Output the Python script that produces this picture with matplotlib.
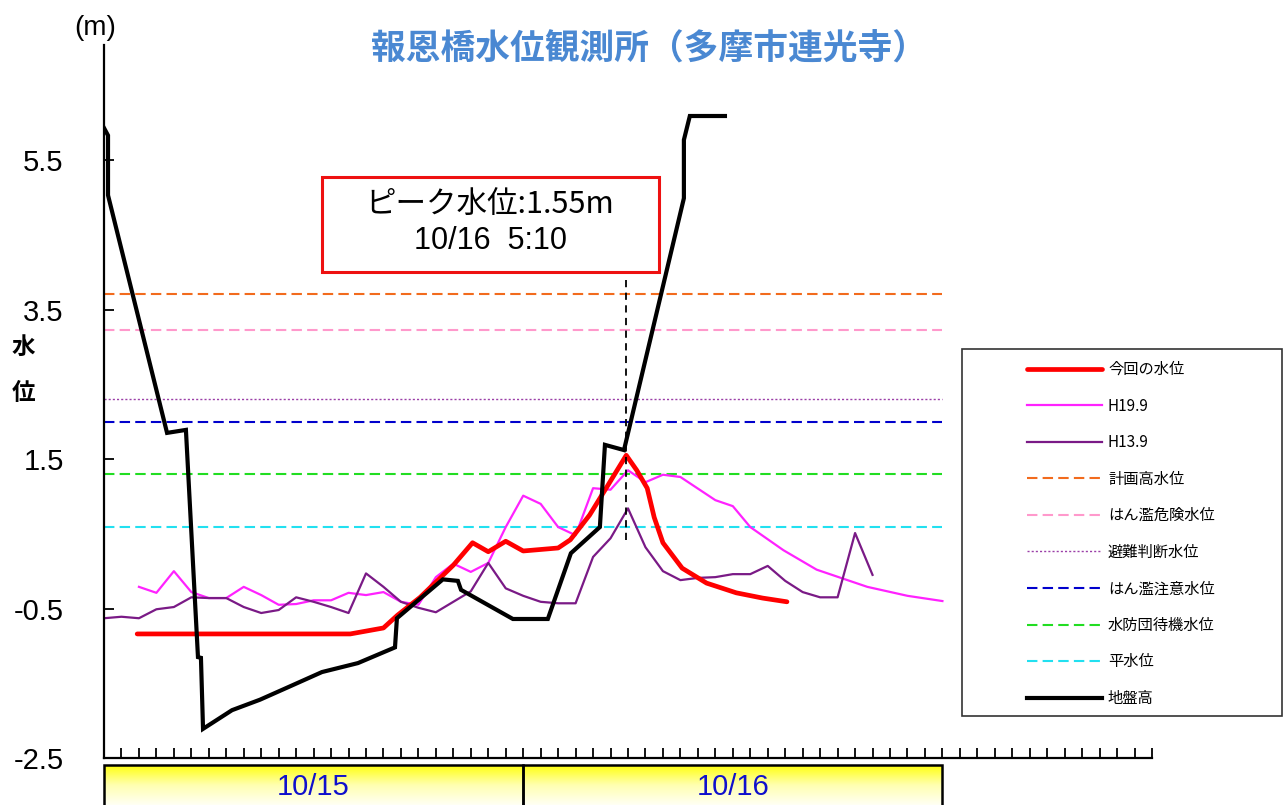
import numpy as np
import matplotlib
matplotlib.use("Agg")
import matplotlib.pyplot as plt
from matplotlib.patches import Rectangle
from matplotlib.colors import LinearSegmentedColormap

plt.rcParams['font.family'] = ['Noto Sans CJK JP', 'DejaVu Sans']
plt.rcParams['axes.unicode_minus'] = False

# --- data (hours from start of 10/15, water level in m) ---
title = "報恩橋水位観測所（多摩市連光寺）"
dates = ["10/15", "10/16"]
peak_time_label = "10/16  5:10"

# 今回の水位
now_t = [1.9, 14.1, 16.0, 16.8, 18.1, 20.0, 21.1, 22.0, 23.0, 24.0, 26.0, 26.7,
         27.8, 28.8, 29.9, 30.5, 31.1, 31.5, 32.0, 33.1, 34.5, 36.2, 37.7, 39.1]
now_v = [-0.84, -0.84, -0.76, -0.59, -0.35, 0.08, 0.38, 0.26, 0.40, 0.27, 0.31, 0.42,
         0.75, 1.13, 1.55, 1.35, 1.11, 0.72, 0.38, 0.04, -0.16, -0.29, -0.36, -0.41]

# H19.9
h19_t = [2, 3, 4, 5, 6, 7, 8, 9, 10, 11, 12, 13, 14, 15, 16, 17, 18, 19, 20, 21,
         22, 23, 24, 25, 26, 27, 28, 29, 30, 31, 32, 33, 35, 36, 37, 38.9, 40.8,
         43.7, 46, 48]
h19_v = [-0.21, -0.29, 0.00, -0.28, -0.36, -0.36, -0.21, -0.32, -0.45, -0.44, -0.39,
         -0.39, -0.29, -0.32, -0.28, -0.41, -0.45, -0.08, 0.10, -0.01, 0.11, 0.59,
         1.01, 0.90, 0.59, 0.48, 1.11, 1.09, 1.35, 1.19, 1.29, 1.26, 0.95, 0.87,
         0.59, 0.28, 0.02, -0.21, -0.33, -0.40]

# H13.9
h13_t = list(range(0, 45))
h13_v = [-0.63, -0.61, -0.63, -0.51, -0.48, -0.35, -0.36, -0.36, -0.48, -0.56,
         -0.52, -0.35, -0.41, -0.48, -0.56, -0.03, -0.21, -0.41, -0.49, -0.55,
         -0.41, -0.27, 0.11, -0.23, -0.33, -0.41, -0.43, -0.43, 0.19, 0.44,
         0.84, 0.32, 0.00, -0.12, -0.09, -0.08, -0.04, -0.04, 0.07, -0.13,
         -0.28, -0.35, -0.35, 0.51, -0.05]

# 地盤高 (cross section drawn on the same axes)
ground_x = [0, 0.23, 0.23, 3.61, 4.69, 5.38, 5.55, 5.67, 7.33, 8.93, 10.47, 12.48,
            14.54, 16.66, 16.77, 19.4, 20.26, 20.44, 23.41, 25.41, 26.73, 28.39,
            28.68, 29.77, 33.2, 33.2, 33.54, 35.55]
ground_v = [5.93, 5.83, 5.03, 1.85, 1.89, -1.15, -1.16, -2.11, -1.86, -1.72, -1.56,
            -1.35, -1.23, -1.02, -0.63, -0.11, -0.13, -0.25, -0.64, -0.64, 0.24,
            0.59, 1.69, 1.62, 4.99, 5.77, 6.09, 6.09]

# reference levels
level_names = ["計画高水位", "はん濫危険水位", "避難判断水位", "はん濫注意水位",
               "水防団待機水位", "平水位"]
level_values = [3.71, 3.22, 2.30, 2.00, 1.30, 0.59]

yticks = [5.5, 3.5, 1.5, -0.5, -2.5]

# --- figure ---
fig = plt.figure(figsize=(12.86, 8.05), dpi=100)
ax = fig.add_axes([104/1286, 1-758/805, (1152-104)/1286, (758-45)/805])
ax.set_xlim(0, 60)
ax.set_ylim(-2.5, 7.04)

level_styles = [
    dict(color='#F26B1D', ls=(0, (5, 2.5)), lw=1.5),
    dict(color='#FF99CC', ls=(0, (5, 2.5)), lw=1.5),
    dict(color='#9B3FA8', ls=(0, (1.5, 1.5)), lw=1.0),
    dict(color='#0000CC', ls=(0, (5, 2.5)), lw=1.5),
    dict(color='#22DD22', ls=(0, (5, 2.5)), lw=1.5),
    dict(color='#22E0F0', ls=(0, (5, 2.5)), lw=1.5),
]
level_handles = []
for name, val, st in zip(level_names, level_values, level_styles):
    l, = ax.plot([0, 48], [val, val], label=name, **st)
    level_handles.append(l)

h19_line, = ax.plot(h19_t, h19_v, color='#FF22FF', lw=1.6, label='H19.9')
h13_line, = ax.plot(h13_t, h13_v, color='#7A1A86', lw=1.6, label='H13.9')
now_line, = ax.plot(now_t, now_v, color='#FF0000', lw=3.4, label='今回の水位',
                    solid_joinstyle='round', solid_capstyle='round')
ground_line, = ax.plot(ground_x, ground_v, color='black', lw=3.0, label='地盤高',
                       solid_joinstyle='miter')

# peak marker
ip = int(np.argmax(now_v))
peak_t, peak_v = now_t[ip], now_v[ip]
ax.vlines(peak_t, 0.42, 3.9, colors='black', linestyles=(0, (4, 3)), lw=1.3, zorder=5)
ax.add_patch(Rectangle((12.5, 4.0), 19.3, 1.27, fc='white', ec='#EE1111', lw=2.2, zorder=6))
ax.text(22.1, 4.90, f"ピーク水位:{peak_v:.2f}m", ha='center', va='center',
        fontsize=22, zorder=7)
ax.text(22.1, 4.42, peak_time_label, ha='center', va='center', fontsize=22,
        family=['Liberation Sans'], zorder=7)

# axes styling
for s in ['top', 'right']:
    ax.spines[s].set_visible(False)
for s in ['left', 'bottom']:
    ax.spines[s].set_linewidth(1.6)
ax.set_xticks(np.arange(1, 61))
ax.set_xticklabels([])
ax.tick_params(axis='x', direction='in', length=7, width=1.3)
ax.set_yticks(yticks)
ax.set_yticklabels([f"{v:.1f}" for v in yticks], family=['Liberation Sans'], fontsize=21)
ax.tick_params(axis='y', direction='in', length=7, width=1.3, pad=29)

# title and labels
fig.text(0.505, 0.940, title, ha='center', va='center', fontsize=25,
         fontweight='bold', color='#4A88D2')
fig.text(0.074, 0.965, "(m)", ha='center', va='center', fontsize=20,
         family=['Liberation Sans'])
fig.text(0.018, 0.569, "水", ha='center', va='center', fontsize=17, fontweight='bold')
fig.text(0.018, 0.512, "位", ha='center', va='center', fontsize=17, fontweight='bold')

# date band below axis
dax = fig.add_axes([104/1286, 0, (1152-104)/1286, (805-765)/805])
dax.set_xlim(0, 60)
dax.set_ylim(0, 1)
dax.axis('off')
grad = LinearSegmentedColormap.from_list('yl', ['#FFFF10', '#FFFFB0', '#FFFFF4'])
for i, d in enumerate(dates):
    x0 = 24 * i
    dax.imshow(np.linspace(0, 1, 64).reshape(-1, 1), cmap=grad, aspect='auto',
               extent=(x0, x0 + 24, 0, 1), origin='upper')
    dax.add_patch(Rectangle((x0, -0.2), 24, 1.2, fill=False, ec='black', lw=1.8,
                            clip_on=False))
    dax.text(x0 + 12, 0.45, d, ha='center', va='center', fontsize=21,
             color='#1010CC', family=['Liberation Sans'])
dax.set_xlim(0, 60)
dax.set_ylim(0, 1)

# legend
handles = [now_line, h19_line, h13_line] + level_handles + [ground_line]
fig.legend(handles=handles, labels=[h.get_label() for h in handles],
           loc='upper left', bbox_to_anchor=(1027/1286, 1-361/805),
           bbox_transform=fig.transFigure, frameon=False, fontsize=11,
           borderpad=0, borderaxespad=0, handlelength=4.9, handletextpad=0.4,
           labelspacing=1.28)
fig.add_artist(Rectangle((962/1286, 1-716/805), 320/1286, 367/805,
                         transform=fig.transFigure, fill=False, ec='#333333', lw=1.2))

fig.savefig('out.png', dpi=100)
